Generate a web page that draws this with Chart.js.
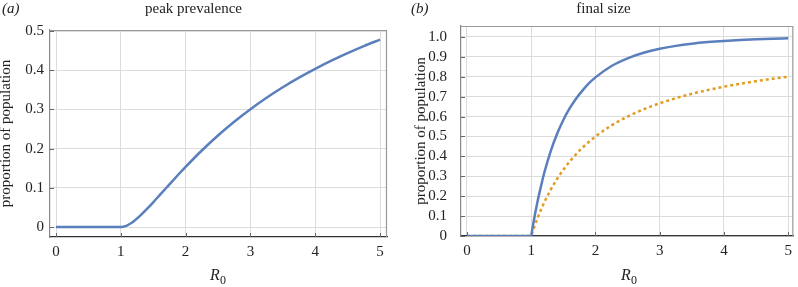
<!DOCTYPE html>
<html>
<head>
<meta charset="utf-8">
<script src="https://cdn.jsdelivr.net/npm/chart.js@4.4.0/dist/chart.umd.min.js"></script>
<style>
  html, body { margin: 0; padding: 0; background: #fff; }
  #wrap { position: relative; width: 798px; height: 287px; font-family: "Liberation Serif", "DejaVu Serif", serif; color: #222; }
  .panel { position: absolute; top: 0; height: 287px; }
  .tag { position: absolute; top: 0px; font-style: italic; font-size: 15px; }
  .xlab { position: absolute; top: 266px; font-size: 16px; transform: translateX(-50%); white-space: nowrap; }
  .xlab sub { font-style: normal; font-size: 12px; }
</style>
</head>
<body>
<div id="wrap">
  <div class="panel" style="left:0;width:398px"><canvas id="peakChart" width="398" height="287"></canvas></div>
  <div class="panel" style="left:398px;width:400px"><canvas id="sizeChart" width="400" height="287"></canvas></div>
  <span class="tag" style="left:2px">(a)</span>
  <span class="tag" style="left:411px">(b)</span>
  <span class="xlab" style="left:218px"><i>R</i><sub>0</sub></span>
  <span class="xlab" style="left:629px"><i>R</i><sub>0</sub></span>
</div>
<script>
"use strict";

// ========== DATA ========== //
const r0Values = [0, 1, 1.01, 1.02, 1.05, 1.1, 1.15, 1.2, 1.3, 1.4, 1.5, 1.6, 1.7, 1.8, 1.9, 2, 2.25, 2.5, 2.75, 3, 3.25, 3.5, 3.75, 4, 4.25, 4.5, 4.75, 5];
// (a) peak prevalence
const peakPrevalence = [0, 0, 0.00005, 0.0002, 0.0012, 0.0043, 0.0089, 0.0147, 0.029, 0.0454, 0.063, 0.0813, 0.0996, 0.1179, 0.1359, 0.1534, 0.1952, 0.2335, 0.2685, 0.3005, 0.3297, 0.3564, 0.3809, 0.4034, 0.4243, 0.4435, 0.4614, 0.4781];
// (b) final size (solid) and threshold (dotted)
const finalSize = [0, 0, 0.0197, 0.0388, 0.094, 0.176, 0.2473, 0.314, 0.423, 0.511, 0.583, 0.642, 0.6911, 0.7317, 0.7676, 0.7968, 0.854, 0.8926, 0.9203, 0.9405, 0.9552, 0.9661, 0.9741, 0.9802, 0.9848, 0.9883, 0.991, 0.993];
const herdThreshold = [0, 0, 0.0099, 0.0196, 0.0476, 0.0909, 0.1304, 0.1667, 0.2308, 0.2857, 0.3333, 0.375, 0.4118, 0.4444, 0.4737, 0.5, 0.5556, 0.6, 0.6364, 0.6667, 0.6923, 0.7143, 0.7333, 0.75, 0.7647, 0.7778, 0.7895, 0.8];

const xTicks = [0, 1, 2, 3, 4, 5];
const peakTicks = [0, 0.1, 0.2, 0.3, 0.4, 0.5];
const peakTickLabels = ['0', '0.1', '0.2', '0.3', '0.4', '0.5'];
const sizeTicks = [0, 0.1, 0.2, 0.3, 0.4, 0.5, 0.6, 0.7, 0.8, 0.9, 1.0];
const sizeTickLabels = ['0', '0.1', '0.2', '0.3', '0.4', '0.5', '0.6', '0.7', '0.8', '0.9', '1.0'];

const blue = '#5b7fbd';
const orange = '#e19c24';
const serif = "'Liberation Serif', 'DejaVu Serif', serif";

Chart.defaults.font.family = serif;
Chart.defaults.font.size = 15;
Chart.defaults.color = '#222';

function toPoints(ys) {
    return r0Values.map((x, i) => ({ x: x, y: ys[i] }));
}

// top + right frame lines and little inner ticks
const framePlugin = {
    id: 'frame',
    beforeDatasetsDraw(chart) {
        const a = chart.chartArea;
        const ctx = chart.ctx;
        ctx.save();
        ctx.strokeStyle = '#999';
        ctx.lineWidth = 1.2;
        ctx.beginPath();
        ctx.moveTo(a.left, a.top + 0.5);
        ctx.lineTo(a.right - 0.5, a.top + 0.5);
        ctx.lineTo(a.right - 0.5, a.bottom);
        ctx.stroke();
        ctx.strokeStyle = '#666';
        ctx.lineWidth = 1;
        ctx.beginPath();
        chart.scales.x.ticks.forEach(t => {
            const px = Math.round(chart.scales.x.getPixelForValue(t.value)) + 0.5;
            ctx.moveTo(px, a.bottom);
            ctx.lineTo(px, a.bottom - 4);
        });
        chart.scales.y.ticks.forEach(t => {
            const py = Math.round(chart.scales.y.getPixelForValue(t.value)) + 0.5;
            ctx.moveTo(a.left, py);
            ctx.lineTo(a.left + 4, py);
        });
        ctx.stroke();
        ctx.restore();
    }
};

function makeChart(id, cfg) {
    return new Chart(document.getElementById(id), {
        type: 'scatter',
        data: { datasets: cfg.datasets },
        plugins: [framePlugin],
        options: {
            responsive: false,
            animation: false,
            events: [],
            layout: { padding: cfg.padding },
            plugins: {
                legend: { display: false },
                tooltip: { enabled: false },
                title: {
                    display: true,
                    text: cfg.title,
                    color: '#222',
                    font: { family: serif, size: 15, weight: 'normal' },
                    padding: { top: 0, bottom: cfg.titleGap }
                }
            },
            elements: { point: { radius: 0 } },
            scales: {
                x: {
                    type: 'linear',
                    min: cfg.xMin,
                    max: cfg.xMax,
                    afterBuildTicks: s => { s.ticks = xTicks.map(v => ({ value: v })); },
                    afterFit: s => { s.height = cfg.xHeight; },
                    grid: { color: '#dcdcdc', lineWidth: 1, drawTicks: false },
                    border: { display: true, color: '#333', width: 1.2 },
                    ticks: {
                        padding: 6,
                        color: '#222',
                        font: { family: serif, size: 15 },
                        callback: v => String(v)
                    }
                },
                y: {
                    type: 'linear',
                    min: cfg.yMin,
                    max: cfg.yMax,
                    afterBuildTicks: s => { s.ticks = cfg.yTicks.map(v => ({ value: v })); },
                    afterFit: s => { s.width = cfg.yWidth; },
                    grid: { color: '#dcdcdc', lineWidth: 1, drawTicks: false },
                    border: { display: true, color: '#888', width: 1.2 },
                    ticks: {
                        padding: cfg.yTickPad,
                        color: '#222',
                        font: { family: serif, size: 15 },
                        callback: v => cfg.yLabels[cfg.yTicks.indexOf(v)]
                    },
                    title: {
                        display: true,
                        text: 'proportion of population',
                        color: '#222',
                        font: { family: serif, size: 15 },
                        padding: { top: cfg.yTitleTop, bottom: 0 }
                    }
                }
            }
        }
    });
}

// (a) peak prevalence
makeChart('peakChart', {
    title: 'peak prevalence',
    titleGap: 12,
    padding: { left: 0, right: 11, top: 0, bottom: 0 },
    xMin: -0.0926, xMax: 5.108, xHeight: 50,
    yMin: -0.0255, yMax: 0.5026,
    yTicks: peakTicks, yLabels: peakTickLabels,
    yWidth: 50, yTickPad: 6, yTitleTop: -3,
    datasets: [{
        data: toPoints(peakPrevalence),
        showLine: true,
        borderColor: blue,
        borderWidth: 2.5,
        cubicInterpolationMode: 'monotone'
    }]
});

// (b) final size
makeChart('sizeChart', {
    title: 'final size',
    titleGap: 8,
    padding: { left: 14, right: 3, top: 0, bottom: 0 },
    xMin: -0.093, xMax: 5.08, xHeight: 51,
    yMin: 0, yMax: 1.055,
    yTicks: sizeTicks, yLabels: sizeTickLabels,
    yWidth: 49, yTickPad: 14, yTitleTop: 0,
    datasets: [{
        data: toPoints(finalSize),
        showLine: true,
        borderColor: blue,
        borderWidth: 2.5,
        cubicInterpolationMode: 'monotone'
    }, {
        data: toPoints(herdThreshold),
        showLine: true,
        borderColor: orange,
        borderWidth: 2.5,
        borderDash: [3, 3],
        cubicInterpolationMode: 'monotone'
    }]
});
</script>
</body>
</html>
